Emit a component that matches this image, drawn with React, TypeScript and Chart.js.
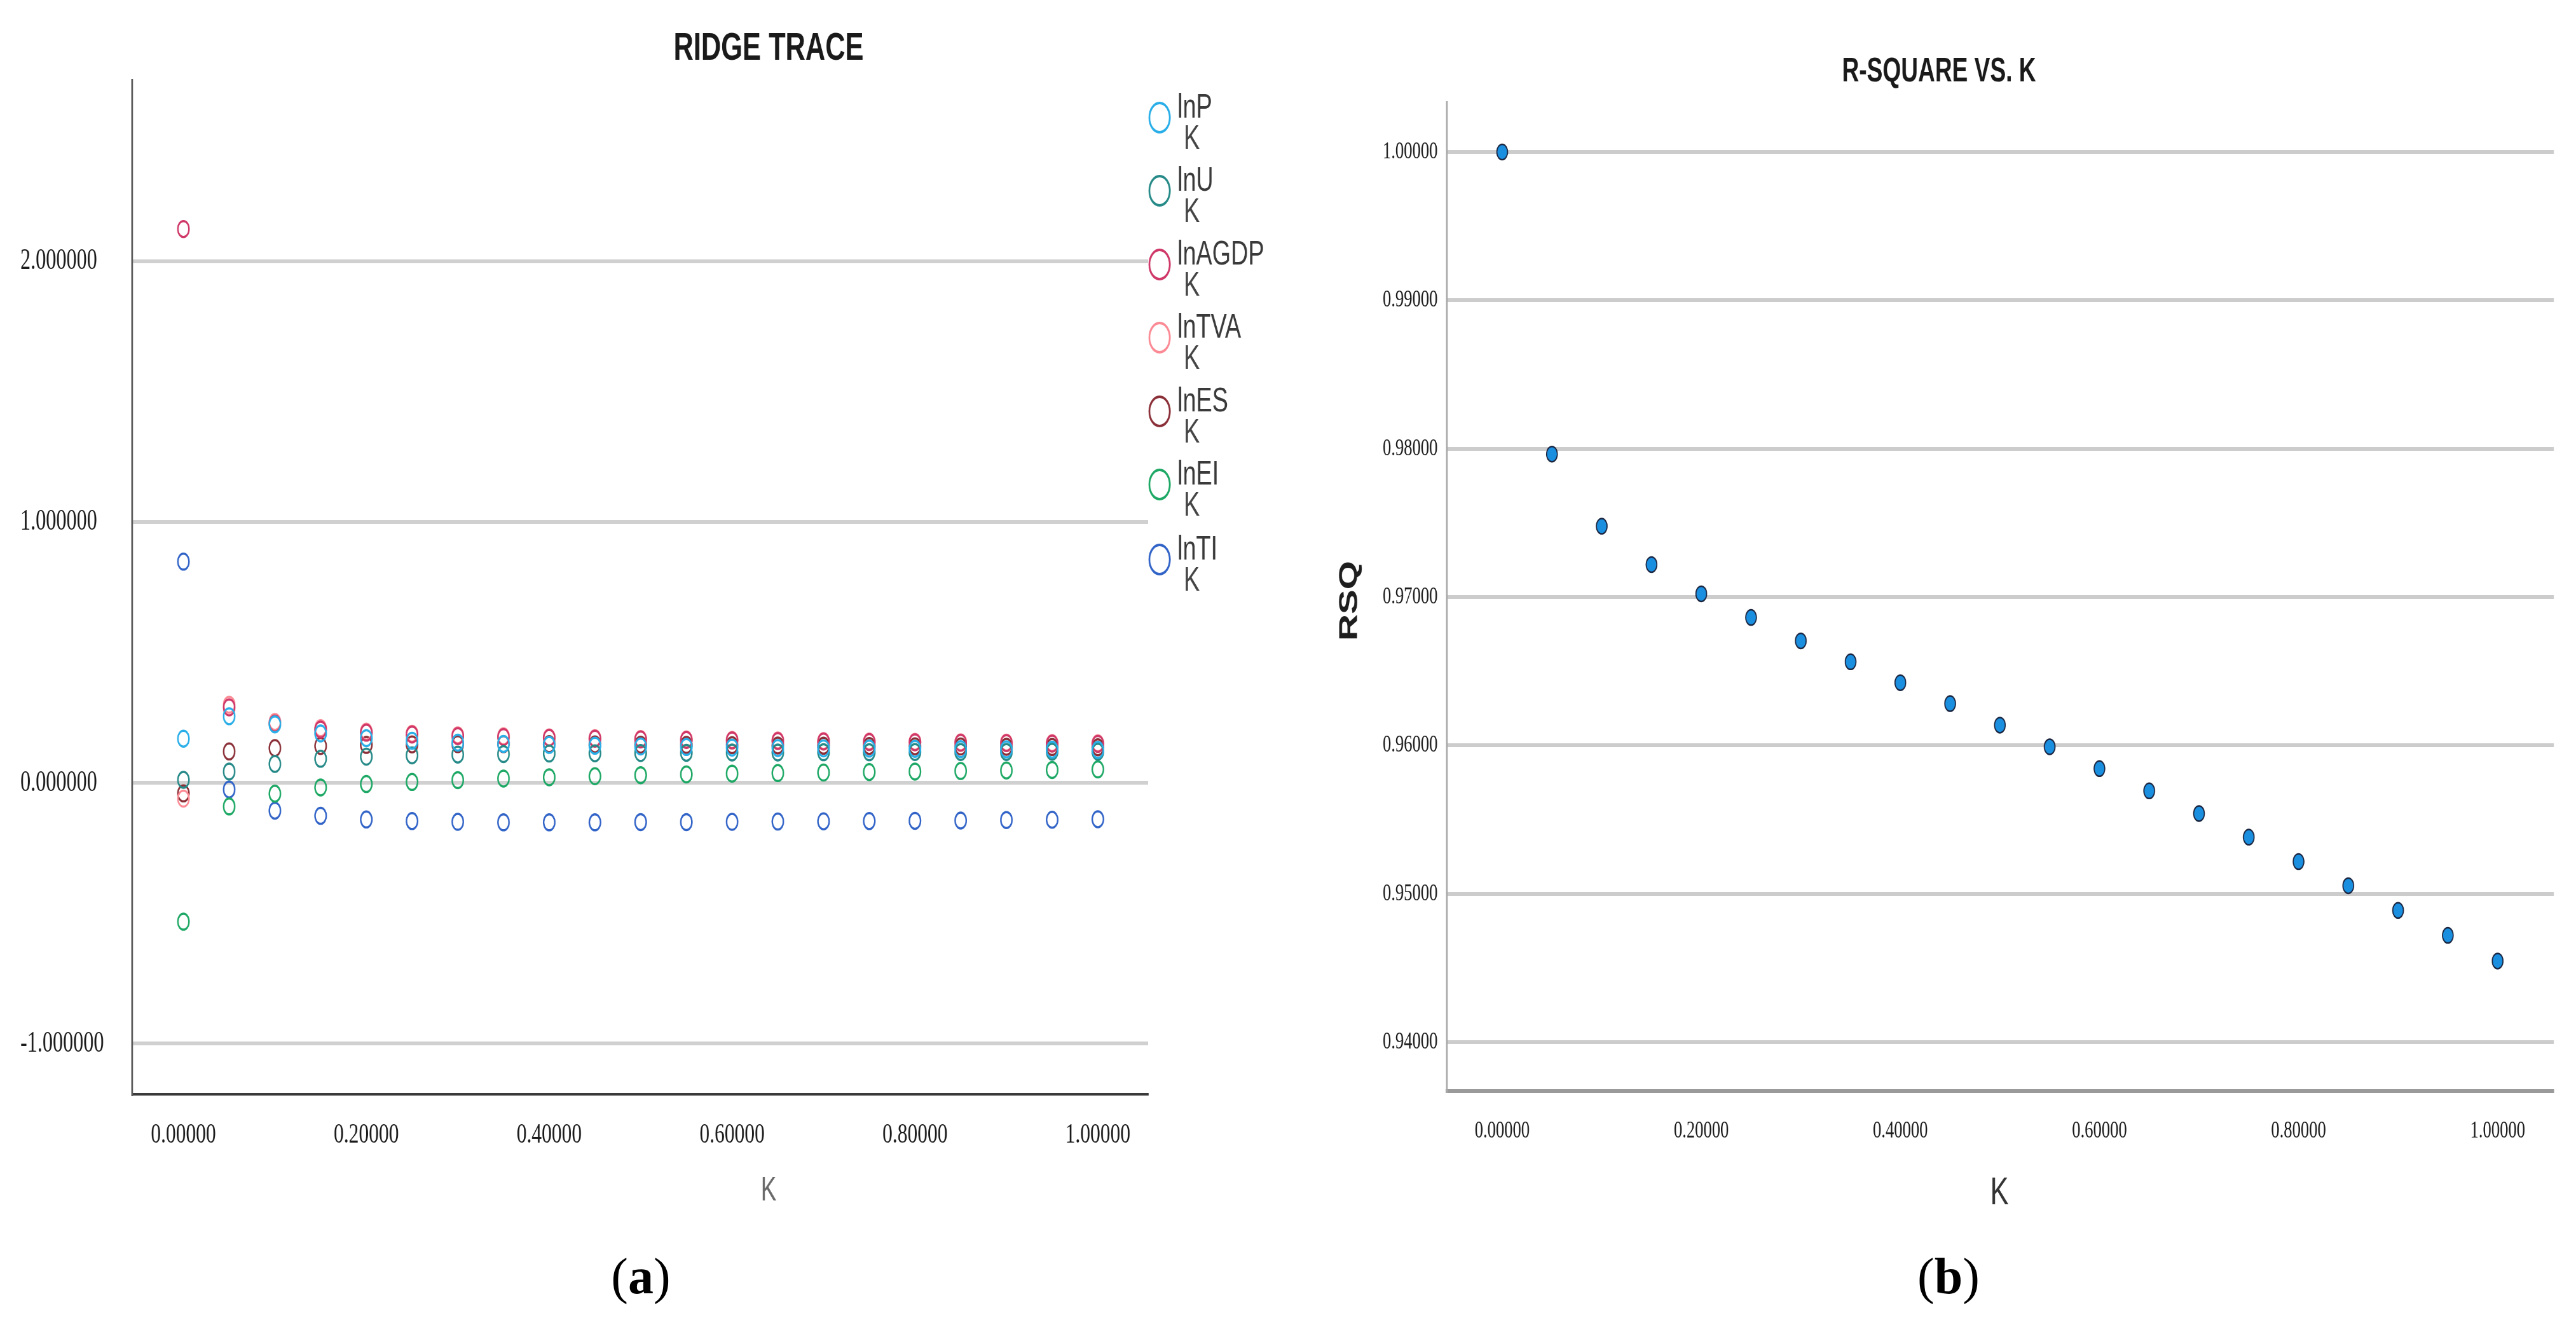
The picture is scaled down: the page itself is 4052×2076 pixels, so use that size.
import React, { useEffect, useRef } from "react";
import { Chart, registerables } from "chart.js";
Chart.register(...registerables);

// ---------- data ----------
const K = [0, 0.05, 0.1, 0.15, 0.2, 0.25, 0.3, 0.35, 0.4, 0.45, 0.5, 0.55, 0.6, 0.65, 0.7, 0.75, 0.8, 0.85, 0.9, 0.95, 1.0];

const lnP = [0.170, 0.256, 0.225, 0.190, 0.172, 0.162, 0.155, 0.150, 0.146, 0.143, 0.140, 0.138, 0.136, 0.134, 0.133, 0.132, 0.131, 0.130, 0.129, 0.128, 0.127];
const lnU = [0.012, 0.044, 0.073, 0.093, 0.101, 0.106, 0.109, 0.111, 0.113, 0.114, 0.115, 0.116, 0.117, 0.117, 0.118, 0.118, 0.119, 0.119, 0.119, 0.120, 0.120];
const lnAGDP = [2.125, 0.290, 0.228, 0.205, 0.193, 0.186, 0.180, 0.176, 0.173, 0.170, 0.167, 0.165, 0.163, 0.161, 0.159, 0.157, 0.156, 0.154, 0.153, 0.151, 0.150];
const lnTVA = [-0.060, 0.300, 0.234, 0.210, 0.197, 0.189, 0.183, 0.179, 0.175, 0.172, 0.169, 0.167, 0.165, 0.163, 0.161, 0.159, 0.158, 0.156, 0.155, 0.153, 0.152];
const lnES = [-0.040, 0.121, 0.134, 0.142, 0.146, 0.148, 0.149, 0.149, 0.149, 0.148, 0.147, 0.146, 0.145, 0.144, 0.143, 0.142, 0.141, 0.140, 0.139, 0.138, 0.137];
const lnEI = [-0.532, -0.090, -0.041, -0.017, -0.004, 0.004, 0.011, 0.017, 0.022, 0.026, 0.030, 0.033, 0.036, 0.038, 0.040, 0.042, 0.044, 0.046, 0.048, 0.050, 0.052];
const lnTI = [0.849, -0.025, -0.106, -0.126, -0.140, -0.146, -0.149, -0.151, -0.151, -0.151, -0.150, -0.150, -0.149, -0.148, -0.147, -0.146, -0.145, -0.144, -0.142, -0.141, -0.139];

const SERIES_NAMES = ["lnP", "lnU", "lnAGDP", "lnTVA", "lnES", "lnEI", "lnTI"];
const SERIES_VALUES = [lnP, lnU, lnAGDP, lnTVA, lnES, lnEI, lnTI];
const SERIES_COLORS = ["#29aee8", "#268a88", "#cf3868", "#fb8a94", "#8b3038", "#1ea865", "#3264c8"];

const RSQ = [1.0, 0.97964, 0.97478, 0.97219, 0.97022, 0.96863, 0.96705, 0.96564, 0.96423, 0.96282, 0.96137, 0.95991, 0.95844, 0.95694, 0.95541, 0.95382, 0.95217, 0.95055, 0.94888, 0.9472, 0.94547];

const K_TICKS = [0, 0.2, 0.4, 0.6, 0.8, 1.0];
const RIDGE_Y_TICKS = [-1, 0, 1, 2];
const RSQ_Y_TICKS = [0.94, 0.95, 0.96, 0.97, 0.98, 0.99, 1.0];

// ---------- layout ----------
const H = 2076;
const S = 0.7; // horizontal condensing of the charts
const LEFT_L = 0;
const LEFT_W = 2040;
const RIGHT_L = 2040;
const RIGHT_W = 2012;
const LEFT_WI = Math.round(LEFT_W / S);
const RIGHT_WI = Math.round(RIGHT_W / S);

function drawText(
  ctx: CanvasRenderingContext2D,
  text: string,
  x: number,
  y: number,
  font: string,
  color: string,
  align: CanvasTextAlign = "center",
  baseline: CanvasTextBaseline = "middle",
  rot = 0
) {
  ctx.save();
  ctx.font = font;
  ctx.fillStyle = color;
  ctx.textAlign = align;
  ctx.textBaseline = baseline;
  ctx.translate(x, y);
  if (rot) ctx.rotate(rot);
  ctx.fillText(text, 0, 0);
  ctx.restore();
}

function RidgeChart() {
  const ref = useRef<HTMLCanvasElement | null>(null);
  useEffect(() => {
    if (!ref.current) return;
    const decor = {
      id: "ridgeDecor",
      afterDraw(chart: any) {
        const ctx: CanvasRenderingContext2D = chart.ctx;
        drawText(ctx, "RIDGE TRACE", 1209 / S, 77, 'bold 62px "Liberation Sans"', "#1a1a1a");
        drawText(ctx, "K", 1209 / S, 1873, '53px "Liberation Sans"', "#6a6a6a");
        const legendY = [185, 300, 416, 531, 647, 762, 880];
        chart.data.datasets.forEach((ds: any, i: number) => {
          const cy = legendY[i];
          ctx.save();
          ctx.beginPath();
          ctx.lineWidth = 4;
          ctx.strokeStyle = ds.borderColor;
          ctx.arc(1824 / S, cy, 23, 0, Math.PI * 2);
          ctx.stroke();
          ctx.restore();
          drawText(ctx, ds.label, 1852 / S, cy, '54px "Liberation Sans"', "#3a3a3a", "left", "alphabetic");
          drawText(ctx, "K", 1862 / S, cy + 49, '54px "Liberation Sans"', "#444444", "left", "alphabetic");
        });
      },
    };
    const chart = new Chart(ref.current, {
      type: "scatter",
      data: {
        datasets: SERIES_NAMES.map((name, i) => ({
          label: name,
          data: K.map((k, j) => ({ x: k, y: SERIES_VALUES[i][j] })),
          borderColor: SERIES_COLORS[i],
          backgroundColor: "rgba(0,0,0,0)",
          pointRadius: 12.5,
          pointBorderWidth: 3.5,
          pointStyle: "circle",
          showLine: false,
        })),
      },
      options: {
        animation: false,
        responsive: false,
        devicePixelRatio: 1,
        events: [],
        layout: { padding: { left: 32 / S, right: LEFT_WI - 1806 / S, top: 125.6, bottom: 0 } },
        plugins: { legend: { display: false }, tooltip: { enabled: false }, title: { display: false } },
        scales: {
          x: {
            type: "linear",
            min: -0.056,
            max: 1.055,
            afterBuildTicks: (s: any) => {
              s.ticks = K_TICKS.map((v) => ({ value: v }));
            },
            afterFit: (s: any) => {
              s.height = H - 1720.6;
            },
            ticks: {
              callback: (v: any) => Number(v).toFixed(5),
              font: { family: "Liberation Serif", size: 45 },
              color: "#1a1a1a",
              padding: 38,
              maxRotation: 0,
              autoSkip: false,
            },
            grid: { display: false, drawTicks: false },
            border: { display: true, color: "#3a3a3a", width: 4 },
          },
          y: {
            type: "linear",
            min: -1.193,
            max: 2.697,
            afterBuildTicks: (s: any) => {
              s.ticks = RIDGE_Y_TICKS.map((v) => ({ value: v }));
            },
            afterFit: (s: any) => {
              s.width = 208 / S - 32 / S;
            },
            ticks: {
              callback: (v: any) => Number(v).toFixed(6),
              font: { family: "Liberation Serif", size: 46 },
              color: "#1a1a1a",
              crossAlign: "far",
              padding: 0,
              autoSkip: false,
            },
            grid: { color: "#d0d0d0", lineWidth: 6, drawTicks: false },
            border: { display: true, color: "#5a5a5a", width: 4 },
          },
        },
      } as any,
      plugins: [decor],
    });
    return () => chart.destroy();
  }, []);
  return (
    <canvas
      ref={ref}
      width={LEFT_WI}
      height={H}
      style={{
        position: "absolute",
        left: LEFT_L,
        top: 0,
        width: LEFT_WI,
        height: H,
        transform: `scaleX(${S})`,
        transformOrigin: "0 0",
      }}
    />
  );
}

function RsqChart() {
  const ref = useRef<HTMLCanvasElement | null>(null);
  useEffect(() => {
    if (!ref.current) return;
    const decor = {
      id: "rsqDecor",
      afterDraw(chart: any) {
        const ctx: CanvasRenderingContext2D = chart.ctx;
        drawText(ctx, "R-SQUARE VS. K", (3050 - RIGHT_L) / S, 113, 'bold 53px "Liberation Sans"', "#1a1a1a");
        drawText(ctx, "RSQ", (2123 - RIGHT_L) / S, 945, 'bold 58px "Liberation Sans"', "#1e1e1e", "center", "middle", -Math.PI / 2);
        drawText(ctx, "K", (3145 - RIGHT_L) / S, 1877, '62px "Liberation Sans"', "#333333");
      },
    };
    const chart = new Chart(ref.current, {
      type: "scatter",
      data: {
        datasets: [
          {
            label: "RSQ",
            data: K.map((k, j) => ({ x: k, y: RSQ[j] })),
            backgroundColor: "#1a8fe0",
            borderColor: "#1b2540",
            pointRadius: 12,
            pointBorderWidth: 2.5,
            pointStyle: "circle",
            showLine: false,
          },
        ],
      },
      options: {
        animation: false,
        responsive: false,
        devicePixelRatio: 1,
        events: [],
        layout: { padding: { left: 0, right: RIGHT_WI - (4017 - RIGHT_L) / S, top: 160.7, bottom: 0 } },
        plugins: { legend: { display: false }, tooltip: { enabled: false }, title: { display: false } },
        scales: {
          x: {
            type: "linear",
            min: -0.0555,
            max: 1.0564,
            afterBuildTicks: (s: any) => {
              s.ticks = K_TICKS.map((v) => ({ value: v }));
            },
            afterFit: (s: any) => {
              s.height = H - 1715.8;
            },
            ticks: {
              callback: (v: any) => Number(v).toFixed(5),
              font: { family: "Liberation Serif", size: 38 },
              color: "#1a1a1a",
              padding: 40,
              maxRotation: 0,
              autoSkip: false,
            },
            grid: { display: false, drawTicks: false },
            border: { display: true, color: "#9a9a9a", width: 6 },
          },
          y: {
            type: "linear",
            min: 0.93671,
            max: 1.00336,
            afterBuildTicks: (s: any) => {
              s.ticks = RSQ_Y_TICKS.map((v) => ({ value: v }));
            },
            afterFit: (s: any) => {
              s.width = (2276 - RIGHT_L) / S;
            },
            ticks: {
              callback: (v: any) => Number(v).toFixed(5),
              font: { family: "Liberation Serif", size: 38 },
              color: "#1a1a1a",
              padding: 21,
              autoSkip: false,
            },
            grid: { color: "#cccccc", lineWidth: 6, drawTicks: false },
            border: { display: true, color: "#a8a8a8", width: 4 },
          },
        },
      } as any,
      plugins: [decor],
    });
    return () => chart.destroy();
  }, []);
  return (
    <canvas
      ref={ref}
      width={RIGHT_WI}
      height={H}
      style={{
        position: "absolute",
        left: RIGHT_L,
        top: 0,
        width: RIGHT_WI,
        height: H,
        transform: `scaleX(${S})`,
        transformOrigin: "0 0",
      }}
    />
  );
}

const captionStyle: React.CSSProperties = {
  position: "absolute",
  top: 1967,
  transform: "translateX(-50%)",
  fontFamily: '"Liberation Serif", serif',
  fontSize: 80,
  lineHeight: 1,
  color: "#000",
  whiteSpace: "nowrap",
};

export default function App() {
  return (
    <div
      style={{
        position: "fixed",
        left: 0,
        top: 0,
        width: 4052,
        height: 2076,
        overflow: "hidden",
        background: "#ffffff",
      }}
    >
      <RidgeChart />
      <RsqChart />
      <div style={{ ...captionStyle, left: 1008 }}>
        (<b>a</b>)
      </div>
      <div style={{ ...captionStyle, left: 3065 }}>
        (<b>b</b>)
      </div>
    </div>
  );
}
